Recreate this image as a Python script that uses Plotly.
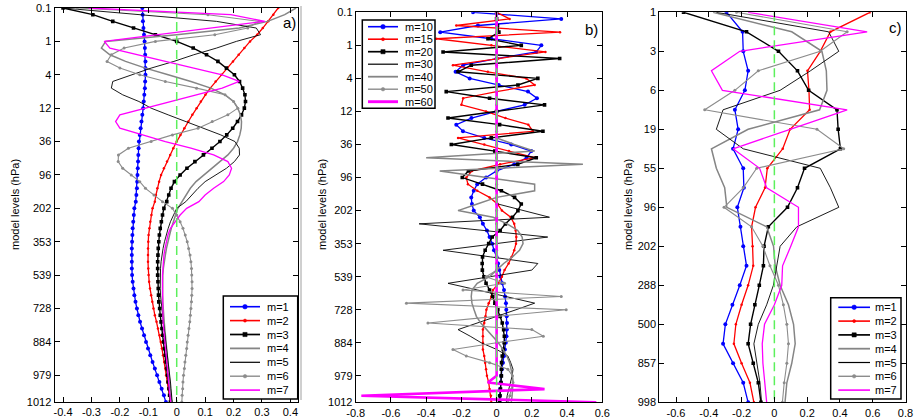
import plotly.graph_objects as go

# ---------------- data ----------------
LEV_AB = list(range(60))          # model level index, panels a and b
LEV_C = list(range(21))           # model level index, panel c

YTICK_AB_POS = [0, 5, 10, 15, 20, 25, 30, 35, 40, 45, 50, 55, 59]
YTICK_AB_TEXT = ["0.1", "1", "4", "12", "36", "96", "202", "353", "539", "728", "884", "979", "1012"]
YTICK_C_POS = [0, 2, 4, 6, 8, 10, 12, 14, 16, 18, 20]
YTICK_C_TEXT = ["1", "3", "6", "19", "55", "96", "202", "288", "500", "857", "998"]

XTICK_A = [-0.4, -0.3, -0.2, -0.1, 0, 0.1, 0.2, 0.3, 0.4]
XTICK_A_TEXT = ["-0.4", "-0.3", "-0.2", "-0.1", "0", "0.1", "0.2", "0.3", "0.4"]
XTICK_B = [-0.8, -0.6, -0.4, -0.2, 0, 0.2, 0.4, 0.6]
XTICK_B_TEXT = ["-0.8", "-0.6", "-0.4", "-0.2", "0", "0.2", "0.4", "0.6"]
XTICK_C = [-0.6, -0.4, -0.2, 0, 0.2, 0.4, 0.6, 0.8]
XTICK_C_TEXT = ["-0.6", "-0.4", "-0.2", "0", "0.2", "0.4", "0.6", "0.8"]

ZERO_REF = [0, 0]

NAMES_A = ["m=1", "m=2", "m=3", "m=4", "m=5", "m=6", "m=7"]
NAMES_B = ["m=10", "m=15", "m=20", "m=30", "m=40", "m=50", "m=60"]
NAMES_C = ["m=1", "m=2", "m=3", "m=4", "m=5", "m=6", "m=7"]

# panel a: m = 1..7
a_m1 = [-0.121,-0.120,-0.119,-0.117,-0.115,-0.113,-0.112,-0.111,-0.110,-0.110,
        -0.110,-0.111,-0.112,-0.114,-0.116,-0.118,-0.121,-0.124,-0.127,-0.130,
        -0.133,-0.134,-0.135,-0.136,-0.137,-0.138,-0.139,-0.140,-0.142,-0.144,
        -0.149,-0.151,-0.153,-0.155,-0.156,-0.157,-0.158,-0.158,-0.158,-0.158,
        -0.157,-0.155,-0.152,-0.149,-0.145,-0.140,-0.135,-0.129,-0.122,-0.115,
        -0.108,-0.101,-0.093,-0.085,-0.077,-0.069,-0.061,-0.053,-0.045,-0.038]
a_m2 = [0.357,0.340,0.322,0.303,0.283,0.258,0.238,0.218,0.198,0.178,
        0.157,0.137,0.118,0.101,0.085,0.070,0.055,0.041,0.027,0.013,
        0.000,-0.012,-0.023,-0.034,-0.045,-0.055,-0.062,-0.068,-0.073,-0.077,
        -0.085,-0.089,-0.093,-0.096,-0.099,-0.100,-0.101,-0.101,-0.101,-0.100,
        -0.099,-0.097,-0.094,-0.090,-0.086,-0.082,-0.077,-0.071,-0.066,-0.060,
        -0.056,-0.052,-0.048,-0.044,-0.040,-0.037,-0.033,-0.030,-0.026,-0.023]
a_m3 = [-0.400,-0.295,-0.225,-0.152,-0.075,0.000,0.058,0.105,0.145,0.175,
        0.203,0.221,0.232,0.240,0.242,0.238,0.228,0.214,0.197,0.176,
        0.152,0.124,0.094,0.064,0.036,0.012,-0.008,-0.020,-0.028,-0.035,
        -0.045,-0.050,-0.054,-0.058,-0.061,-0.063,-0.065,-0.066,-0.067,-0.067,
        -0.067,-0.066,-0.065,-0.064,-0.063,-0.060,-0.058,-0.055,-0.052,-0.049,
        -0.046,-0.043,-0.040,-0.037,-0.034,-0.032,-0.030,-0.027,-0.025,-0.022]
a_m4 = [0.420,0.380,0.320,0.220,0.000,-0.250,-0.265,-0.235,-0.180,-0.110,
        -0.030,0.050,0.120,0.170,0.200,0.215,0.224,0.228,0.227,0.222,
        0.214,0.200,0.180,0.152,0.122,0.093,0.068,0.048,0.033,0.021,
        0.004,-0.004,-0.012,-0.019,-0.025,-0.031,-0.036,-0.040,-0.044,-0.047,
        -0.049,-0.050,-0.050,-0.050,-0.049,-0.048,-0.046,-0.044,-0.042,-0.040,
        -0.037,-0.035,-0.032,-0.030,-0.028,-0.026,-0.024,-0.022,-0.020,-0.018]
a_m5 = [-0.400,-0.130,0.140,0.280,0.295,0.210,0.140,0.060,-0.010,-0.090,
        -0.160,-0.225,-0.230,-0.190,-0.133,-0.090,-0.030,0.030,0.090,0.155,
        0.205,0.220,0.221,0.203,0.175,0.135,0.100,0.075,0.052,0.032,
        0.000,-0.012,-0.022,-0.030,-0.037,-0.043,-0.048,-0.052,-0.055,-0.057,
        -0.058,-0.058,-0.058,-0.057,-0.055,-0.053,-0.050,-0.047,-0.044,-0.041,
        -0.038,-0.035,-0.032,-0.030,-0.027,-0.025,-0.022,-0.020,-0.018,-0.016]
a_m6 = [-0.350,0.110,0.290,0.250,0.134,-0.075,-0.185,-0.230,-0.245,-0.200,
        -0.130,-0.040,0.070,0.170,0.200,0.215,0.180,0.125,0.075,-0.015,
        -0.090,-0.170,-0.205,-0.206,-0.190,-0.160,-0.130,-0.110,-0.080,-0.050,
        -0.015,0.000,0.012,0.022,0.030,0.037,0.042,0.047,0.050,0.052,
        0.053,0.054,0.054,0.053,0.052,0.050,0.048,0.046,0.043,0.040,
        0.037,0.035,0.032,0.029,0.027,0.024,0.022,0.021,0.019,0.018]
a_m7 = [-0.310,0.190,0.310,0.120,-0.070,-0.255,-0.235,-0.140,-0.040,0.060,
        0.160,0.220,0.160,0.070,-0.020,-0.110,-0.200,-0.215,-0.200,-0.120,
        -0.040,0.050,0.130,0.180,0.193,0.185,0.165,0.130,0.100,0.078,
        0.035,0.012,-0.006,-0.022,-0.031,-0.037,-0.041,-0.045,-0.047,-0.049,
        -0.050,-0.050,-0.050,-0.050,-0.050,-0.050,-0.049,-0.048,-0.046,-0.044,
        -0.042,-0.040,-0.038,-0.036,-0.034,-0.032,-0.030,-0.027,-0.024,-0.021]

# panel b: m = 10, 15, 20, 30, 40, 50, 60
b_m10 = [-0.134,0.367,-0.106,-0.320,-0.030,0.254,0.225,0.000,-0.190,-0.233,
         -0.153,0.012,0.178,0.229,0.159,0.000,-0.143,-0.229,-0.191,-0.070,
         0.083,0.197,0.170,0.100,0.000,-0.060,-0.110,-0.130,-0.144,-0.140,
         -0.130,-0.095,-0.078,-0.055,-0.040,-0.025,-0.015,0.000,0.008,0.015,
         0.022,0.032,0.042,0.048,0.053,0.055,0.057,0.059,0.058,0.056,
         0.052,0.047,0.042,0.036,0.030,0.026,0.023,0.020,0.018,0.017]
b_m15 = [0.000,0.074,-0.229,0.360,-0.342,-0.030,0.277,0.010,-0.248,-0.050,
         0.168,0.216,0.000,-0.190,-0.200,-0.060,0.050,0.180,0.206,-0.219,
         -0.070,0.070,0.216,0.020,-0.140,-0.172,-0.163,-0.110,-0.040,0.005,
         0.030,0.080,0.100,0.108,0.112,0.110,0.100,0.085,0.068,0.045,
         0.030,0.010,-0.020,-0.030,-0.045,-0.058,-0.063,-0.070,-0.078,-0.078,
         -0.078,-0.078,-0.070,-0.065,-0.060,-0.055,-0.045,-0.040,-0.032,-0.030]
b_m20 = [0.000,0.000,0.005,0.013,-0.049,0.140,-0.304,0.358,-0.144,-0.219,
         0.234,0.121,-0.286,-0.040,0.272,0.000,-0.276,0.017,0.263,-0.030,
         -0.257,-0.010,0.225,0.120,-0.160,-0.195,-0.080,0.027,0.102,0.140,
         0.121,0.090,0.050,0.020,-0.025,-0.045,-0.065,-0.080,-0.082,-0.081,
         -0.072,-0.060,-0.040,-0.022,-0.010,0.007,0.020,0.032,0.040,0.044,
         0.043,0.038,0.032,0.028,0.027,0.027,0.025,0.022,0.019,0.017]
b_m30 = [0.000,0.000,0.000,0.000,0.000,0.000,0.000,0.000,0.000,0.000,
         0.000,0.000,0.000,0.000,0.000,0.000,0.000,0.000,0.000,0.000,
         0.000,0.000,0.000,0.000,0.000,0.000,0.000,0.000,0.000,0.007,
         0.150,0.300,-0.440,-0.075,0.290,-0.005,-0.304,-0.035,0.234,0.200,
         -0.040,-0.276,-0.110,0.055,0.216,0.110,0.000,-0.110,-0.219,-0.150,
         -0.087,0.000,0.064,0.080,0.093,0.088,0.078,0.068,0.060,0.055]
b_m40 = [0.000,0.000,0.000,0.000,0.000,0.000,0.000,0.000,0.000,0.000,
         0.000,0.000,0.000,0.000,0.000,0.000,0.000,0.000,0.000,0.000,
         0.100,0.216,-0.400,0.490,-0.323,-0.050,0.216,0.216,0.000,-0.110,
         -0.219,-0.020,0.060,0.120,0.145,0.150,0.130,0.090,0.040,0.000,
         -0.040,-0.110,-0.140,-0.144,-0.140,-0.128,-0.115,-0.090,-0.055,-0.020,
         0.010,0.036,0.058,0.074,0.083,0.090,0.093,0.092,0.088,0.083]
b_m50 = [0.000,0.000,0.000,0.000,0.000,0.000,0.000,0.000,0.000,0.000,
         0.000,0.000,0.000,0.000,0.000,0.000,0.000,0.000,0.000,0.000,
         0.000,0.000,0.000,0.000,0.000,0.000,0.000,0.000,0.000,0.000,
         0.000,0.000,0.000,0.000,0.000,0.000,0.000,0.000,0.000,0.000,
         -0.060,0.045,-0.191,0.367,-0.512,0.395,0.000,-0.390,0.200,0.265,
         0.000,-0.248,-0.172,-0.040,0.064,0.090,0.093,0.085,0.075,0.065]
b_m60 = [0.000,0.000,0.000,0.000,0.000,0.000,0.000,0.000,0.000,0.000,
         0.000,0.000,0.000,0.000,0.000,0.000,0.000,0.000,0.000,0.000,
         0.000,0.000,0.000,0.000,0.000,0.000,0.000,0.000,0.000,0.000,
         0.000,0.000,0.000,0.000,0.000,0.000,0.000,0.000,0.000,0.000,
         0.000,0.000,0.000,0.000,0.000,0.000,0.000,0.000,0.000,0.000,
         0.000,0.000,0.000,0.000,0.000,0.000,-0.050,0.272,-0.768,0.566]

# panel c: m = 1..7
c_m1 = [-0.292,-0.194,-0.190,-0.160,-0.180,-0.241,-0.221,-0.252,-0.190,-0.186,-0.226,
        -0.207,-0.190,-0.170,-0.211,-0.256,-0.299,-0.313,-0.252,-0.190,-0.160]
c_m2 = [0.583,0.342,0.280,0.202,0.211,0.215,0.096,0.051,-0.043,-0.057,-0.115,
        -0.139,-0.133,-0.129,-0.160,-0.200,-0.235,-0.247,-0.200,-0.149,-0.125]
c_m3 = [-0.554,-0.170,0.025,0.141,0.209,0.382,0.389,0.403,0.184,0.141,0.080,
        -0.037,-0.063,-0.067,-0.092,-0.119,-0.145,-0.160,-0.129,-0.098,-0.082]
c_m4 = [-0.374,0.106,0.290,0.317,0.321,0.276,-0.160,-0.384,-0.354,-0.303,-0.290,
        -0.047,-0.005,0.005,0.035,0.086,0.117,0.127,0.106,0.076,0.065]
c_m5 = [-0.354,0.331,0.393,0.220,0.035,-0.313,-0.354,-0.190,0.280,0.342,0.393,
        0.137,0.035,0.014,-0.006,-0.047,-0.098,-0.125,-0.108,-0.088,-0.078]
c_m6 = [-0.231,0.444,0.280,-0.098,-0.241,-0.425,0.260,0.423,-0.108,-0.190,-0.307,
        -0.139,-0.070,-0.027,0.025,0.055,0.076,0.086,0.076,0.060,0.049]
c_m7 = [-0.160,0.566,-0.211,-0.384,-0.317,0.444,0.096,-0.252,-0.090,-0.047,0.147,
        0.147,0.100,0.050,0.045,0.000,-0.060,-0.074,-0.070,-0.057,-0.047]

# ---------------- styles ----------------
FONT = "Liberation Sans, Arial, sans-serif"
W, H = 917, 420

def px_x(p):
    return p / W

def px_y(p):
    return 1 - p / H

STY = {
    "blue":   dict(color="#0000ff", width=1.3, marker="circle", msize=4),
    "red":    dict(color="#ff0000", width=1.3, marker="circle", msize=2.5),
    "blackm": dict(color="#000000", width=1.4, marker="square", msize=3.6),
    "grayk":  dict(color="#858585", width=1.5, marker=None, msize=0),
    "black":  dict(color="#000000", width=0.9, marker=None, msize=0),
    "graym":  dict(color="#8c8c8c", width=1.1, marker="circle", msize=3.0),
    "mag":    dict(color="#ff00ff", width=1.3, marker=None, msize=0),
    "magk":   dict(color="#ff00ff", width=2.6, marker=None, msize=0),
}
STY_A = ["blue", "red", "blackm", "grayk", "black", "graym", "mag"]
STY_B = ["blue", "red", "blackm", "black", "grayk", "graym", "magk"]
STY_C = STY_A

fig = go.Figure()

def add(x, y, name, sty, xa, ya):
    s = STY[sty]
    kw = dict(x=x, y=y, name=name, xaxis=xa, yaxis=ya, showlegend=False,
              line=dict(color=s["color"], width=s["width"]))
    if s["marker"]:
        kw["mode"] = "lines+markers"
        kw["marker"] = dict(symbol=s["marker"], size=s["msize"], color=s["color"])
    else:
        kw["mode"] = "lines"
    fig.add_trace(go.Scatter(**kw))

for vals, nm, st in zip([a_m1, a_m2, a_m3, a_m4, a_m5, a_m6, a_m7], NAMES_A, STY_A):
    add(vals, LEV_AB, nm, st, "x", "y")
for vals, nm, st in zip([b_m10, b_m15, b_m20, b_m30, b_m40, b_m50, b_m60], NAMES_B, STY_B):
    add(vals, LEV_AB, nm, st, "x2", "y2")
for vals, nm, st in zip([c_m1, c_m2, c_m3, c_m4, c_m5, c_m6, c_m7], NAMES_C, STY_C):
    add(vals, LEV_C, nm, st, "x3", "y3")

# zero reference dashed lines
for xa, ya, lev in [("x", "y", LEV_AB), ("x2", "y2", LEV_AB), ("x3", "y3", LEV_C)]:
    fig.add_trace(go.Scatter(x=ZERO_REF, y=[lev[0], lev[-1]], xaxis=xa, yaxis=ya,
                             mode="lines", showlegend=False,
                             line=dict(color="#5cf05c", width=1.5, dash="9px,5px")))

ax_common = dict(showline=True, linecolor="black", linewidth=1, mirror="ticks",
                 ticks="inside", ticklen=5, tickwidth=1, tickcolor="black",
                 showgrid=False, zeroline=False, automargin=False,
                 tickfont=dict(family=FONT, size=11, color="black"))

fig.update_layout(
    width=W, height=H, margin=dict(l=0, r=0, t=0, b=0, pad=0, autoexpand=False),
    paper_bgcolor="white", plot_bgcolor="white", showlegend=False,
    font=dict(family=FONT, size=11, color="black"),
    xaxis=dict(domain=[px_x(54.5), px_x(297.5)], range=[-0.43, 0.425],
               tickvals=XTICK_A, ticktext=XTICK_A_TEXT, anchor="y", **ax_common),
    yaxis=dict(domain=[px_y(402), px_y(8)], range=[59, 0],
               tickvals=YTICK_AB_POS, ticktext=YTICK_AB_TEXT, anchor="x", **ax_common),
    xaxis2=dict(domain=[px_x(355.7), px_x(602.3)], range=[-0.8, 0.6],
                tickvals=XTICK_B, ticktext=XTICK_B_TEXT, anchor="y2", **ax_common),
    yaxis2=dict(domain=[px_y(402.3), px_y(12.3)], range=[59, 0],
                tickvals=YTICK_AB_POS, ticktext=YTICK_AB_TEXT, anchor="x2", **ax_common),
    xaxis3=dict(domain=[px_x(659.3), px_x(906)], range=[-0.702, 0.803],
                tickvals=XTICK_C, ticktext=XTICK_C_TEXT, anchor="y3", **ax_common),
    yaxis3=dict(domain=[px_y(402.3), px_y(12.3)], range=[20, 0],
                tickvals=YTICK_C_POS, ticktext=YTICK_C_TEXT, anchor="x3", **ax_common),
)

shapes = []
ann = []

# hand-drawn legends (compact, like the original figure)
def legend_box(names, styles, box, row0, dy, lx0, lx1, tx, fsize):
    x0, y0, x1, y1 = box
    shapes.append(dict(type="rect", xref="paper", yref="paper",
                       x0=px_x(x0), x1=px_x(x1), y0=px_y(y1), y1=px_y(y0),
                       line=dict(color="black", width=1.5), fillcolor="white", layer="above"))
    for i, (nm, st) in enumerate(zip(names, styles)):
        s = STY[st]
        yy = row0 + i * dy
        shapes.append(dict(type="line", xref="paper", yref="paper",
                           x0=px_x(lx0), x1=px_x(lx1), y0=px_y(yy), y1=px_y(yy),
                           line=dict(color=s["color"], width=s["width"] + 0.3), layer="above"))
        if s["marker"]:
            r = s["msize"] / 2 + 0.3
            cx = (lx0 + lx1) / 2
            shapes.append(dict(type="circle" if s["marker"] == "circle" else "rect",
                               xref="paper", yref="paper",
                               x0=px_x(cx - r), x1=px_x(cx + r), y0=px_y(yy + r), y1=px_y(yy - r),
                               line=dict(color=s["color"], width=0.5), fillcolor=s["color"],
                               layer="above"))
        ann.append(dict(x=px_x(tx), y=px_y(yy), xref="paper", yref="paper", text=nm,
                        showarrow=False, xanchor="left", yanchor="middle",
                        font=dict(family=FONT, size=fsize, color="black")))

legend_box(NAMES_A, STY_A, (223.3, 296, 297.7, 399), 306.7, 13.9, 230, 260, 265, 11)
legend_box(NAMES_B, STY_B, (362.3, 20, 435, 108.3), 26.7, 12.5, 368, 398, 402.5, 11)
legend_box(NAMES_C, STY_C, (830.7, 297.7, 901, 399), 307.3, 13.8, 838.3, 870, 873, 11)

for xc, lab in [(15, "model levels (hPa)"), (322, "model levels (hPa)"), (628, "model levels (hPa)")]:
    ann.append(dict(x=px_x(xc), y=px_y(205), xref="paper", yref="paper", text=lab,
                    textangle=-90, showarrow=False, xanchor="center", yanchor="middle",
                    font=dict(family=FONT, size=11, color="black")))
for xc, yc, lab in [(289, 22, "a)"), (591, 30, "b)"), (895, 28, "c)")]:
    ann.append(dict(x=px_x(xc), y=px_y(yc), xref="paper", yref="paper", text=lab,
                    showarrow=False, xanchor="center", yanchor="middle",
                    font=dict(family=FONT, size=15, color="black")))

shapes.append(dict(type="line", xref="paper", yref="paper",
                   x0=px_x(301), x1=px_x(301), y0=px_y(400), y1=px_y(6),
                   line=dict(color="#a0a0a0", width=1)))

fig.update_layout(shapes=shapes, annotations=ann)

fig.write_html("out.html",
               config={"displayModeBar": False, "staticPlot": True},
               post_script="document.body.style.margin='0px';document.body.style.overflow='hidden';")
